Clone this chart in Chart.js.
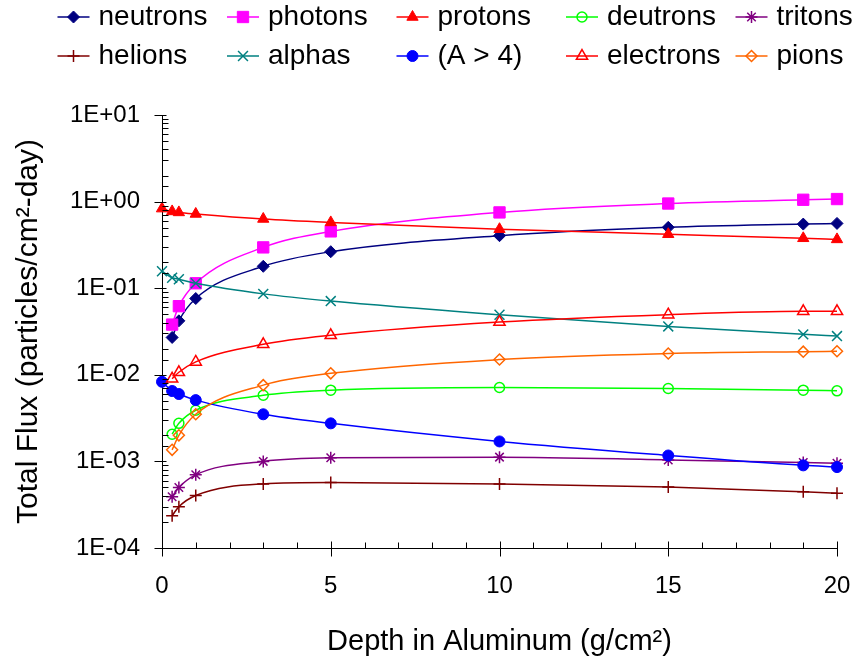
<!DOCTYPE html>
<html>
<head>
<meta charset="utf-8">
<script src="https://cdn.jsdelivr.net/npm/chart.js@4.4.1/dist/chart.umd.min.js"></script>
<style>
  body { margin: 0; background: #fff; }
  #flux { display: block; }
</style>
</head>
<body>
<canvas id="flux" width="856" height="659"></canvas>
<script>
// depth points (g/cm2) and flux values, null = no point
var depths    = [0, 0.3, 0.5, 1, 3, 5, 10, 15, 19, 20];
var neutrons  = [null, 0.027, 0.042, 0.076, 0.179, 0.264, 0.404, 0.504, 0.55, 0.56];
var photons   = [null, 0.038, 0.062, 0.114, 0.296, 0.453, 0.75, 0.95, 1.05, 1.07];
var protons   = [0.83, 0.77, 0.75, 0.72, 0.63, 0.575, 0.48, 0.42, 0.377, 0.366];
var deutrons  = [null, 0.00206, 0.00275, 0.0039, 0.0058, 0.00665, 0.00714, 0.00695, 0.00665, 0.00653];
var tritons   = [null, 0.00039, 0.0005, 0.0007, 0.001, 0.0011, 0.00112, 0.00104, 0.00097, 0.00095];
var helions   = [null, 0.000236, 0.0003, 0.000404, 0.00055, 0.00057, 0.00055, 0.000505, 0.000446, 0.00043];
var alphas    = [0.157, 0.132, 0.127, 0.114, 0.086, 0.071, 0.0494, 0.0362, 0.0293, 0.028];
var heavy     = [0.0083, 0.0065, 0.006, 0.0051, 0.0035, 0.00275, 0.0017, 0.00117, 0.0009, 0.00086];
var electrons = [null, 0.009, 0.0107, 0.0141, 0.0225, 0.0286, 0.0406, 0.0494, 0.054, 0.054];
var pions     = [null, 0.00136, 0.002, 0.0035, 0.0076, 0.0104, 0.015, 0.0176, 0.0185, 0.0187];

var xTicks      = [0, 5, 10, 15, 20];
var yDecades    = [1e-4, 1e-3, 1e-2, 1e-1, 1, 10];
var yTickLabels = ['1E-04', '1E-03', '1E-02', '1E-01', '1E+00', '1E+01'];

var FONT = "'Liberation Sans', Arial, sans-serif";
Chart.defaults.font.family = FONT;
Chart.defaults.color = '#000';

function points(vals) {
  return depths.map(function (d, i) { return { x: d, y: vals[i] }; })
               .filter(function (p) { return p.y !== null; });
}

function series(label, vals, color, style, radius, filled) {
  return {
    label: label,
    data: points(vals),
    borderColor: color,
    borderWidth: 1.5,
    pointStyle: style,
    pointRadius: radius,
    pointHoverRadius: radius,
    pointBorderColor: color,
    pointBackgroundColor: filled ? color : 'rgba(0,0,0,0)',
    pointBorderWidth: filled ? 1 : 1.5,
    cubicInterpolationMode: 'monotone',
    clip: false
  };
}

var datasets = [
  series('neutrons', neutrons, '#000080', 'rectRot', 6, true),
  series('photons', photons, '#FF00FF', 'rect', 8, true),
  series('protons', protons, '#FF0000', 'triangle', 6.5, true),
  series('deutrons', deutrons, '#00FF00', 'circle', 5, false),
  series('tritons', tritons, '#800080', 'star', 6, false),
  series('helions', helions, '#800000', 'cross', 6, false),
  series('alphas', alphas, '#008080', 'crossRot', 7, false),
  series('(A > 4)', heavy, '#0000FF', 'circle', 5.5, true),
  series('electrons', electrons, '#FF0000', 'triangle', 6.5, false),
  series('pions', pions, '#FF6600', 'rectRot', 5.5, false)
];
// later series on top, like the original
datasets.forEach(function (ds, i) { ds.order = datasets.length - i; });

// legend in a fixed 5 x 2 grid
var legendGrid = {
  id: 'legendGrid',
  afterDraw: function (chart) {
    var ctx = chart.ctx;
    var cols = [57.5, 227, 396.5, 566, 735.5];
    var rows = [17, 56];
    chart.data.datasets.forEach(function (ds, i) {
      var x0 = cols[i % 5], yc = rows[Math.floor(i / 5)];
      ctx.save();
      ctx.strokeStyle = ds.borderColor;
      ctx.lineWidth = ds.borderWidth;
      ctx.beginPath();
      ctx.moveTo(x0, yc);
      ctx.lineTo(x0 + 32, yc);
      ctx.stroke();
      ctx.fillStyle = ds.pointBackgroundColor;
      ctx.strokeStyle = ds.pointBorderColor;
      ctx.lineWidth = ds.pointBorderWidth;
      Chart.helpers.drawPoint(ctx, {
        pointStyle: ds.pointStyle, radius: ds.pointRadius,
        rotation: 0, borderWidth: ds.pointBorderWidth
      }, x0 + 16, yc);
      ctx.fillStyle = '#000';
      ctx.font = '28px ' + FONT;
      ctx.textAlign = 'left';
      ctx.textBaseline = 'middle';
      ctx.fillText(ds.label, x0 + 41, yc);
      ctx.restore();
    });
  }
};

// Excel style tick marks: majors cross the axis, minors point inward
var tickMarks = {
  id: 'tickMarks',
  afterDraw: function (chart) {
    var ctx = chart.ctx, xs = chart.scales.x, ys = chart.scales.y;
    var ax = xs.left + 0.5, ay = ys.bottom + 0.5;
    ctx.save();
    ctx.strokeStyle = '#000';
    ctx.lineWidth = 1;
    ctx.beginPath();
    ys.ticks.forEach(function (t) {
      var py = Math.round(ys.getPixelForValue(t.value)) + 0.5;
      var major = yDecades.some(function (d) { return Math.abs(t.value / d - 1) < 1e-6; });
      ctx.moveTo(major ? ax - 8 : ax, py);
      ctx.lineTo(ax + (major ? 4 : 6), py);
    });
    for (var v = xs.min; v <= xs.max; v++) {
      var px = Math.round(xs.getPixelForValue(v)) + 0.5;
      var major = xTicks.indexOf(v) >= 0;
      ctx.moveTo(px, ay - (major ? 7 : 6));
      ctx.lineTo(px, major ? ay + 8 : ay);
    }
    ctx.stroke();
    ctx.restore();
  }
};

new Chart(document.getElementById('flux'), {
  type: 'line',
  data: { datasets: datasets },
  plugins: [legendGrid, tickMarks],
  options: {
    responsive: false,
    animation: false,
    devicePixelRatio: 1,
    layout: { padding: { top: 115, right: 19, bottom: 0, left: 0 } },
    plugins: {
      legend: { display: false },
      tooltip: { enabled: false }
    },
    scales: {
      x: {
        type: 'linear',
        min: 0,
        max: 20,
        grid: { display: false, drawTicks: false },
        border: { display: true, color: '#000', width: 1 },
        ticks: { stepSize: 5, padding: 24, font: { size: 24 }, color: '#000', maxRotation: 0 },
        title: { display: true, text: 'Depth in Aluminum (g/cm²)', font: { size: 29 }, padding: { top: 0, bottom: 0 } },
        afterFit: function (scale) {
          scale.height = 111;
          scale.paddingLeft = 0;
          scale.paddingRight = 0;
        }
      },
      y: {
        type: 'logarithmic',
        min: 1e-4,
        max: 10,
        grid: { display: false, drawTicks: false },
        border: { display: true, color: '#000', width: 1 },
        ticks: {
          autoSkip: false,
          padding: 22,
          font: { size: 24 },
          color: '#000',
          callback: function (v) {
            for (var i = 0; i < yDecades.length; i++) {
              if (Math.abs(v / yDecades[i] - 1) < 1e-6) return yTickLabels[i];
            }
            return '';
          }
        },
        title: { display: true, text: 'Total Flux (particles/cm²-day)', font: { size: 30 }, padding: { top: 11, bottom: 0 } },
        afterFit: function (scale) {
          scale.width = 162;
          scale.paddingTop = 0;
          scale.paddingBottom = 0;
        }
      }
    }
  }
});
</script>
</body>
</html>
